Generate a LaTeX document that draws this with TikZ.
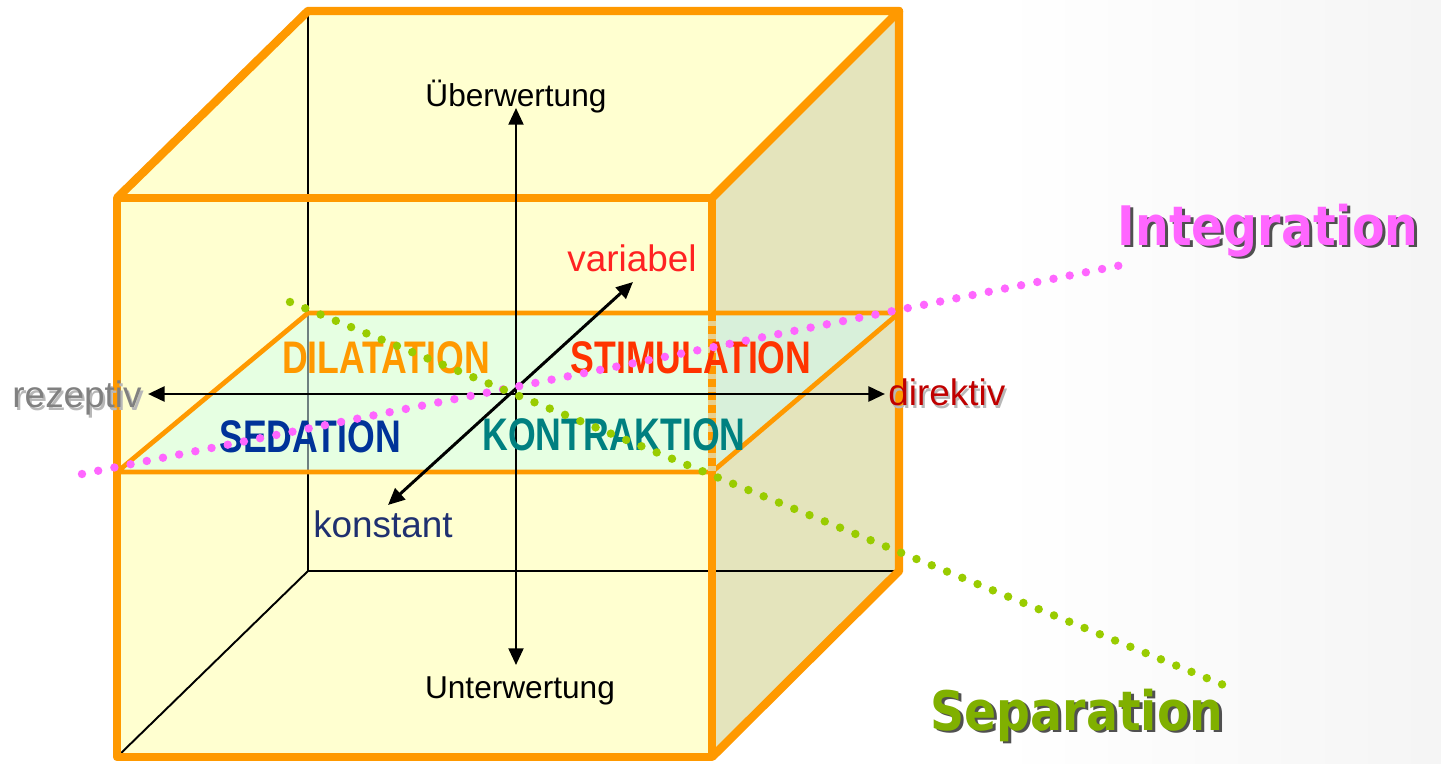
\documentclass[tikz,border=0pt]{standalone}
\usepackage{fontspec}
\setmainfont{Liberation Sans}
\newfontfamily\condfont[FakeStretch=0.78]{Liberation Sans}
\newfontfamily\widefont[FakeStretch=0.87]{DejaVu Sans}
\usetikzlibrary{arrows.meta}
\definecolor{cubeorange}{HTML}{FF9900}
\definecolor{faceyellow}{HTML}{FFFFD0}
\definecolor{sideface}{HTML}{E4E4BC}
\definecolor{planegreen}{HTML}{E6FFE2}
\definecolor{planeside}{HTML}{D8F0DA}
\definecolor{dashgap}{HTML}{E8D090}
\definecolor{dotpink}{HTML}{FF66FF}
\definecolor{dotgreen}{HTML}{99CC00}
\definecolor{sepgreen}{HTML}{80B000}
\definecolor{stimred}{HTML}{FF3300}
\definecolor{sednavy}{HTML}{003399}
\definecolor{kontteal}{HTML}{008080}
\definecolor{direkred}{HTML}{C00000}
\definecolor{varred}{HTML}{FF2222}
\definecolor{konstnavy}{HTML}{1F3070}
\definecolor{rezgray}{HTML}{808080}
\definecolor{hiddenline}{HTML}{6E8080}
\definecolor{softshadow}{HTML}{B8B8B8}
\definecolor{darkshadow}{HTML}{505050}
% text with a drop shadow, as one text
\newcommand{\shadowtext}[4]{\makebox[0pt][l]{\hspace*{#1}\raisebox{-#2}{\textcolor{#3}{#4}}}#4}
\begin{document}
\begin{tikzpicture}[x=0.02cm,y=-0.02cm,
  cubeedge/.style={draw=cubeorange,line width=4.8pt,line join=round},
  backline/.style={draw=black,line width=1.1pt},
  planeedge/.style={draw=cubeorange,line width=2.7pt,line join=round},
  axisarrow/.style={draw=black,line width=1.7pt,<->,>={Triangle[length=9.5pt,width=8.5pt]}},
  dotline/.style={line width=4.8pt,line cap=round,dash pattern=on 0pt off 9.4pt},
  txt/.style={inner sep=0pt,anchor=base},
  axlabel/.style={txt,font=\fontsize{21pt}{24pt}\selectfont},
  vlabel/.style={txt,font=\fontsize{18pt}{21pt}\selectfont},
  planelabel/.style={txt,font=\condfont\bfseries\fontsize{26pt}{30pt}\selectfont},
  biglabel/.style={txt,font=\widefont\bfseries\fontsize{31pt}{36pt}\selectfont},
]
% canvas
\useasboundingbox (0,0) rectangle (1441,764);
\fill[white] (0,0) rectangle (1441,764);
\shade[left color=white,right color=gray!8] (1000,0) rectangle (1441,764);

% cube corners
\coordinate (FTL) at (117,198);
\coordinate (FTR) at (712,198);
\coordinate (FBR) at (712,757);
\coordinate (FBL) at (117,757);
\coordinate (BTL) at (308,11);
\coordinate (BTR) at (899,11);
\coordinate (BBR) at (899,571);
\coordinate (BBL) at (308,571);
% plane corners
\coordinate (P1) at (117,472);
\coordinate (P2) at (308,313);
\coordinate (P3) at (899,313);
\coordinate (P4) at (712,472);
\coordinate (PM) at (712,313);

% faces
\fill[faceyellow] (FTL) -- (BTL) -- (BTR) -- (FTR) -- cycle;
\fill[sideface] (FTR) -- (BTR) -- (BBR) -- (FBR) -- cycle;
\fill[faceyellow] (FTL) rectangle (FBR);

% hidden back edges
\draw[backline] (BTL) -- (BBL) -- (BBR);
\draw[backline] (BBL) -- (FBL);

% plane
\fill[planegreen] (P1) -- (P2) -- (PM) -- (P4) -- cycle;
\fill[planeside] (PM) -- (P3) -- (P4) -- cycle;
\draw[hiddenline,line width=1.1pt] (P2) -- (308,472);
\draw[planeedge] (P1) -- (P2) -- (P3) -- (P4) -- cycle;

% cube edges
\draw[cubeedge] (PM) -- (FTR) -- (FTL) -- (FBL) -- (FBR) -- (P4);
\draw[cubeedge] (FTL) -- (BTL) -- (BTR) -- (FTR);
\draw[cubeedge] (BTR) -- (BBR) -- (FBR);
\draw[dashgap,line width=4.8pt] (PM) -- (P4);
\draw[cubeorange,line width=4.8pt,dash pattern=on 4.5pt off 3pt] (PM) -- (P4);

% axes
\coordinate (axT) at (516,108);
\coordinate (axB) at (516,665);
\coordinate (axL) at (148,394);
\coordinate (axR) at (885,394);
\coordinate (axF) at (388,505);
\coordinate (axK) at (633,282);
\draw[axisarrow,line width=1.3pt] (axB) -- (axT);
\draw[axisarrow] (axL) -- (axR);
\draw[axisarrow] (axF) -- (axK);

% axis labels
\node[vlabel] (uber) at (516,106) {Überwertung};
\node[vlabel] (unter) at (520,698) {Unterwertung};
\node[axlabel,anchor=base east,text=rezgray] (rez) at (142,407) {\shadowtext{1.2pt}{1.8pt}{softshadow}{rezeptiv}};
\node[axlabel,anchor=base west,text=direkred] (dir) at (888,405) {\shadowtext{1.2pt}{1.8pt}{softshadow}{direktiv}};
\node[axlabel,text=varred] (var) at (632,271) {variabel};
\node[axlabel,text=konstnavy] (konst) at (383,537) {konstant};

% plane labels
\node[planelabel,text=cubeorange] (dil) at (386,373) {DILATATION};
\node[planelabel,text=stimred] (stim) at (691,373) {STIMULATION};
\node[planelabel,text=sednavy] (sed) at (310,452) {SEDATION};
\node[planelabel,text=kontteal] (kon) at (614,450) {KONTRAKTION};

% dotted lines
\coordinate (pinkA) at (82,474);
\coordinate (pinkB) at (1122,265);
\coordinate (greenA) at (290,302);
\coordinate (greenB) at (1226,686);
\draw[dotline,dotpink] (pinkA) -- (pinkB);
\draw[dotline,dotgreen] (greenA) -- (greenB);

% big labels
\node[biglabel,text=dotpink] (int) at (1268,245) {\shadowtext{1.7pt}{1.7pt}{darkshadow}{Integration}};
\node[biglabel,text=sepgreen] (sep) at (1077,730) {\shadowtext{1.7pt}{1.7pt}{darkshadow}{Separation}};
\end{tikzpicture}
\end{document}
